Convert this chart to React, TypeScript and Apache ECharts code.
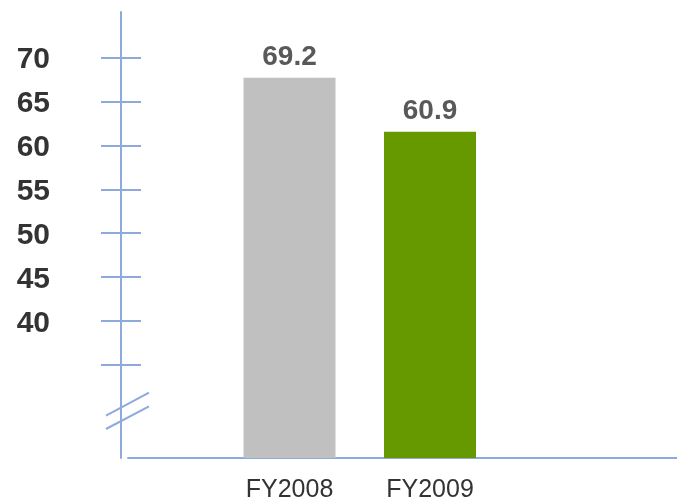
import React, { useEffect, useRef } from "react";
import * as echarts from "echarts";

const categories = ["FY2008", "FY2009"];
const values = [69.2, 60.9];
const barColors = ["#c0c0c0", "#669900"];
const tickValues = [35, 40, 45, 50, 55, 60, 65, 70];
const labelValues = [40, 45, 50, 55, 60, 65, 70];

const AXIS_COLOR = "#8eaadc";
const FONT = "'Liberation Sans', Arial, sans-serif";

export default function App() {
  const ref = useRef<HTMLDivElement>(null);

  useEffect(() => {
    if (!ref.current) return;
    const chart = echarts.init(ref.current, null, { renderer: "svg" });
    const option: any = {
      animation: false,
      grid: [
        { left: 219.25, width: 281, top: 12, bottom: 43 },
        { left: 128, right: 0, top: 12, bottom: 43 },
      ],
      xAxis: [
        {
          type: "category",
          gridIndex: 0,
          data: categories,
          axisLine: { show: false },
          axisTick: { show: false },
          axisLabel: {
            margin: 17,
            fontSize: 25,
            color: "#333333",
            fontFamily: FONT,
          },
        },
        {
          type: "value",
          gridIndex: 1,
          min: 0,
          max: 1,
          axisLine: { show: true, onZero: false, lineStyle: { color: AXIS_COLOR, width: 2 } },
          axisTick: { show: false },
          axisLabel: { show: false },
          splitLine: { show: false },
        },
      ],
      yAxis: [
        {
          type: "value",
          gridIndex: 0,
          min: 10.75,
          max: 79.3,
          show: false,
        },
        {
          type: "value",
          gridIndex: 1,
          position: "left",
          min: 24.4,
          max: 75.2,
          offset: 7,
          axisLine: { show: true, onZero: false, lineStyle: { color: AXIS_COLOR, width: 2 } },
          axisTick: {
            show: true,
            inside: false,
            length: 20,
            customValues: tickValues,
            lineStyle: { color: AXIS_COLOR, width: 2 },
          },
          axisLabel: {
            customValues: labelValues,
            margin: 71,
            fontSize: 30,
            fontWeight: "bold",
            color: "#333333",
            fontFamily: FONT,
          },
          splitLine: { show: false },
        },
        {
          type: "value",
          gridIndex: 1,
          position: "left",
          min: 24.4,
          max: 75.2,
          offset: 7,
          axisLine: { show: false, onZero: false },
          axisTick: {
            show: true,
            inside: true,
            length: 20,
            customValues: tickValues,
            lineStyle: { color: AXIS_COLOR, width: 2 },
          },
          axisLabel: { show: false },
          splitLine: { show: false },
        },
      ],
      series: [
        {
          type: "bar",
          xAxisIndex: 0,
          yAxisIndex: 0,
          barWidth: 92,
          data: values.map((v, i) => ({
            value: v,
            itemStyle: { color: barColors[i] },
          })),
          label: {
            show: true,
            position: "top",
            distance: 8,
            fontSize: 28,
            fontWeight: "bold",
            color: "#595959",
            fontFamily: FONT,
          },
        },
      ],
      graphic: [
        {
          type: "line",
          shape: { x1: 106, y1: 415.7, x2: 149, y2: 392.7 },
          style: { stroke: AXIS_COLOR, lineWidth: 2 },
        },
        {
          type: "line",
          shape: { x1: 106, y1: 429, x2: 149, y2: 406.3 },
          style: { stroke: AXIS_COLOR, lineWidth: 2 },
        },
      ],
    };
    chart.setOption(option);
    return () => chart.dispose();
  }, []);

  return (
    <div
      ref={ref}
      style={{ position: "fixed", left: 0, top: 0, width: 677, height: 501 }}
    />
  );
}
